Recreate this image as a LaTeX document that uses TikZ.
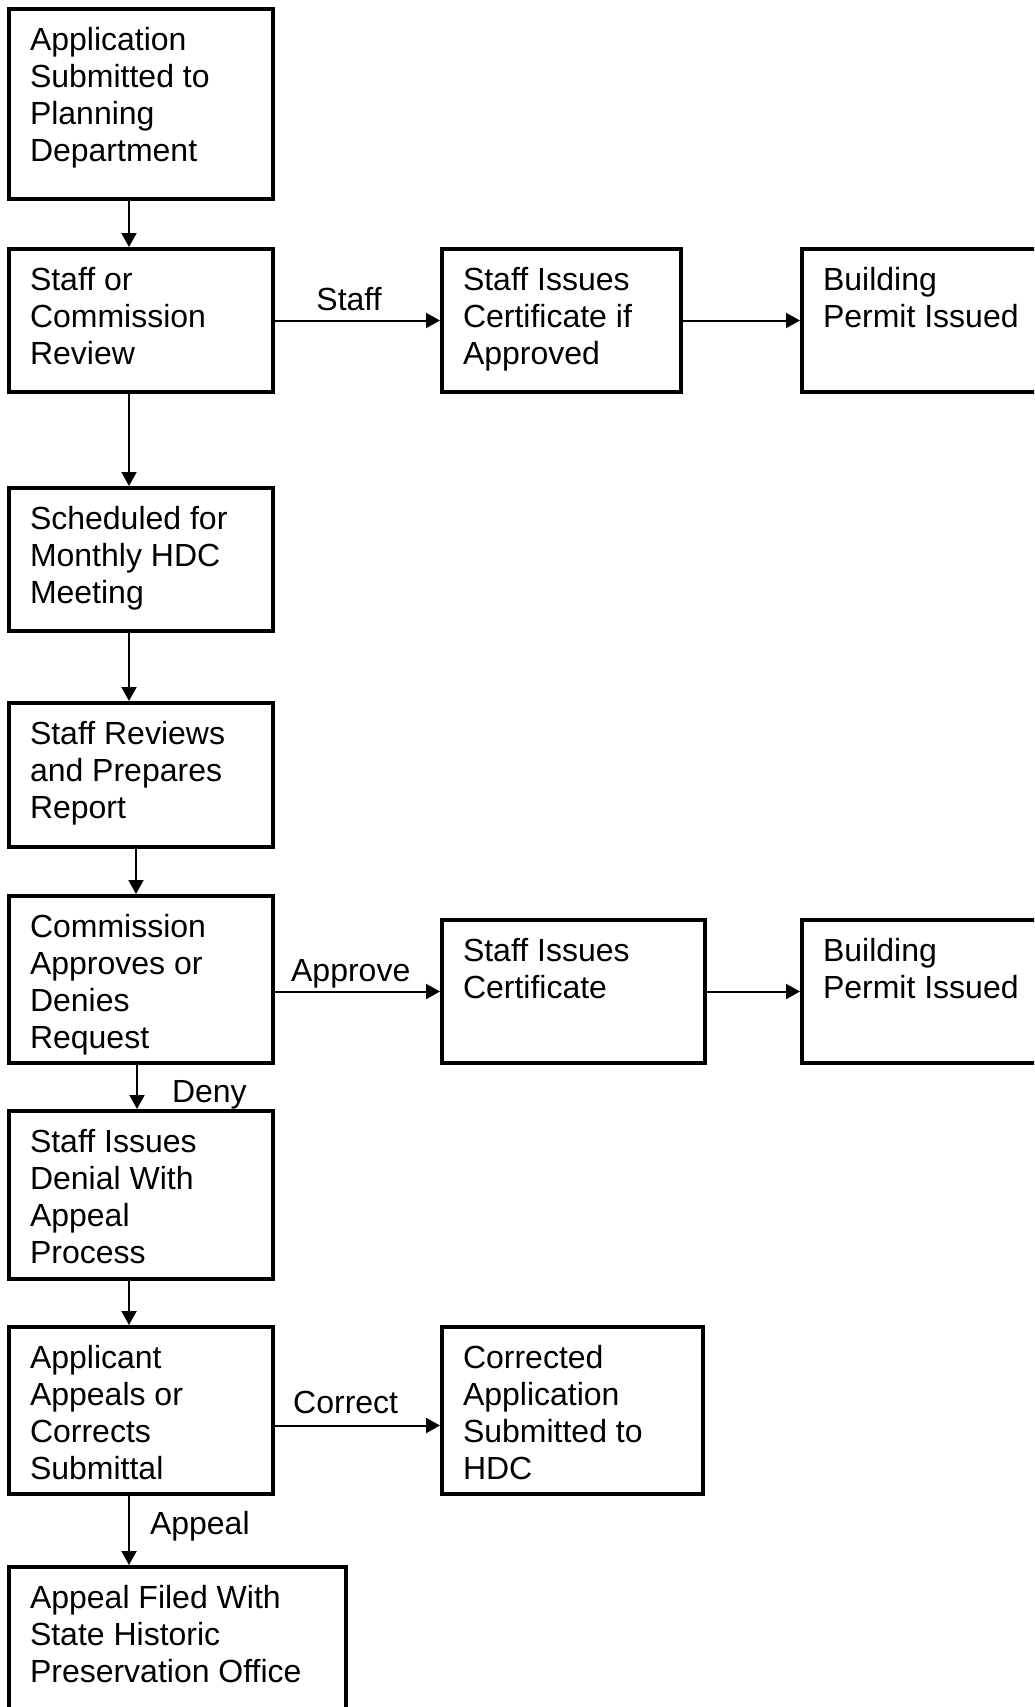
\documentclass[tikz,border=0pt]{standalone}
\usepackage{fontspec}
\setmainfont{Liberation Sans}
\usetikzlibrary{arrows.meta}

\newcommand{\boxtxt}[3]{\parbox[t][#2pt][t]{#1pt}{\raggedright\strut #3}}

\begin{document}
\begin{tikzpicture}[x=1pt,y=-1pt,
  stage/.style={draw, line width=4pt, anchor=north west, outer sep=0pt,
    inner xsep=21pt, inner ysep=16pt, font=\fontsize{32}{37}\selectfont},
  flow/.style={line width=2pt, -{Triangle[length=14pt,width=15pt]}, shorten >=2pt},
  lbl/.style={inner sep=0pt, font=\fontsize{32}{37}\selectfont}]
\useasboundingbox (0,0) rectangle (1034,1707);
\clip (0,0) rectangle (1034,1707);

\node[stage] (apply) at (9,9) {\boxtxt{222}{158}{Application\\Submitted to\\Planning\\Department}};
\node[stage] (review) at (9,249) {\boxtxt{222}{111}{Staff or\\Commission\\Review}};
\node[stage] (certif) at (442,249) {\boxtxt{197}{111}{Staff Issues\\Certificate if\\Approved}};
\node[stage] (permitA) at (802,249) {\boxtxt{358}{111}{Building\\Permit Issued}};
\node[stage] (meeting) at (9,488) {\boxtxt{222}{111}{Scheduled for\\Monthly HDC\\Meeting}};
\node[stage] (report) at (9,703) {\boxtxt{222}{112}{Staff Reviews\\and Prepares\\Report}};
\node[stage] (decide) at (9,896) {\boxtxt{222}{135}{Commission\\Approves or\\Denies\\Request}};
\node[stage] (certok) at (442,920) {\boxtxt{221}{111}{Staff Issues\\Certificate}};
\node[stage] (permitB) at (802,920) {\boxtxt{358}{111}{Building\\Permit Issued}};
\node[stage] (denial) at (9,1111) {\boxtxt{222}{136}{Staff Issues\\Denial With\\Appeal\\Process}};
\node[stage] (appeals) at (9,1327) {\boxtxt{222}{135}{Applicant\\Appeals or\\Corrects\\Submittal}};
\node[stage] (resubmit) at (442,1327) {\boxtxt{219}{135}{Corrected\\Application\\Submitted to\\HDC}};
\node[stage] (shpo) at (9,1567) {\boxtxt{295}{268}{Appeal Filed With\\State Historic\\Preservation Office}};

\draw[flow] ([xshift=120pt]apply.south west) -- ([xshift=120pt]review.north west);
\draw[flow] (review.east) -- node[lbl, pos=0.45, anchor=base, yshift=10pt] {Staff} (certif.west);
\draw[flow] (certif.east) -- (permitA.west);
\draw[flow] ([xshift=120pt]review.south west) -- ([xshift=120pt]meeting.north west);
\draw[flow] ([xshift=120pt]meeting.south west) -- ([xshift=120pt]report.north west);
\draw[flow] ([xshift=127pt]report.south west) -- ([xshift=127pt]decide.north west);
\draw[flow] (decide.east |- certok.west) -- node[lbl, pos=0.46, anchor=base, yshift=10pt] {Approve} (certok.west);
\draw[flow] (certok.east) -- (permitB.west);
\draw[flow] ([xshift=128pt]decide.south west) -- node[lbl, pos=0.83, anchor=base west, xshift=34pt] {Deny} ([xshift=128pt]denial.north west);
\draw[flow] ([xshift=120pt]denial.south west) -- ([xshift=120pt]appeals.north west);
\draw[flow] ([yshift=-15pt]appeals.east) -- node[lbl, pos=0.43, anchor=base, yshift=12pt] {Correct} ([yshift=-15pt]appeals.east -| resubmit.west);
\draw[flow] ([xshift=120pt]appeals.south west) -- node[lbl, pos=0.56, anchor=base west, xshift=20pt] {Appeal} ([xshift=120pt]shpo.north west);
\end{tikzpicture}
\end{document}
